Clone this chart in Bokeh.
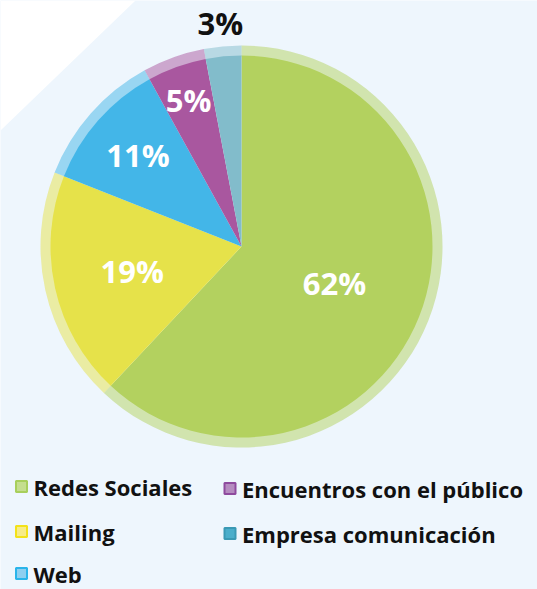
import numpy as np
from bokeh.plotting import figure
from bokeh.models import Range1d, ColumnDataSource
from bokeh.core.properties import value
from bokeh.embed import file_html
from bokeh.resources import INLINE

# ---- data ----
categories = ["Redes Sociales", "Mailing", "Web", "Encuentros con el público", "Empresa comunicación"]
shares = [62, 19, 11, 5, 3]
labels = ["62%", "19%", "11%", "5%", "3%"]

# ---- styles ----
slice_colors = ["#b3d15f", "#e6e24a", "#43b6e8", "#a9579f", "#82bccb"]
legend_fill = ["#c5de8f", "#f7ec88", "#8ecff0", "#b58cc0", "#4aaecb"]
legend_line = ["#a8cf5c", "#f3e21a", "#2ab4ea", "#8e4a9e", "#3a99b4"]
label_colors = ["white", "white", "white", "white", "#111111"]
label_radius = [100, 112, 138, 156, 224]
BG = "#eef6fd"

W, H = 537, 589
p = figure(width=W, height=H, output_backend="svg", toolbar_location=None,
           x_range=Range1d(0, W), y_range=Range1d(0, H),
           min_border=0, background_fill_color=BG, border_fill_color=BG,
           outline_line_color=None)
p.axis.visible = False
p.grid.visible = False

# white corner triangle
p.patch([0, 135, 0], [589, 589, 459], fill_color="white", line_color=None)

cx, cy = 241, 589 - 246
R_in, R_out = 191, 201

frac = np.array(shares, dtype=float) / sum(shares)
cum = np.concatenate([[0], np.cumsum(frac)])
start_cw = cum[:-1] * 360.0
end_cw = cum[1:] * 360.0
start = np.deg2rad(90 - start_cw)
end = np.deg2rad(90 - end_cw)
mid = np.deg2rad(90 - (start_cw + end_cw) / 2)

src = ColumnDataSource(dict(start=start, end=end, color=slice_colors))
p.annular_wedge(x=cx, y=cy, inner_radius=R_in - 1, outer_radius=R_out,
                start_angle="start", end_angle="end", direction="clock",
                fill_color="color", fill_alpha=0.5, line_color=None, source=src)
p.wedge(x=cx, y=cy, radius=R_in, start_angle="start", end_angle="end",
        direction="clock", fill_color="color", line_color=None, source=src)

lr = np.array(label_radius)
lsrc = ColumnDataSource(dict(x=cx + lr * np.cos(mid), y=cy + lr * np.sin(mid),
                             t=labels, c=label_colors))
p.text(x="x", y="y", text="t", text_color="c", source=lsrc,
       text_font=value("Open Sans"), text_font_style="bold", text_font_size="31px",
       text_align="center", text_baseline="middle")

# legend
col_x = [21, 229.5]
row_y = [486, 531, 573]
col_dy = [0, 2]
lx, ly, tx = [], [], []
for i in range(len(categories)):
    c = 0 if i < 3 else 1
    r = i if i < 3 else i - 3
    lx.append(col_x[c])
    ly.append(589 - (row_y[r] + col_dy[c]))
    tx.append(col_x[c] + 12)
legsrc = ColumnDataSource(dict(x=lx, y=ly, tx=tx, t=categories, f=legend_fill, l=legend_line))
p.rect(x="x", y="y", width=11, height=11, fill_color="f", line_color="l",
       line_width=2, source=legsrc)
p.text(x="tx", y="y", text="t", source=legsrc, text_color="#111111",
       text_font=value("Open Sans"), text_font_style="bold", text_font_size="22px",
       text_align="left", text_baseline="middle")

open("out.html", "w").write(file_html(p, INLINE))
